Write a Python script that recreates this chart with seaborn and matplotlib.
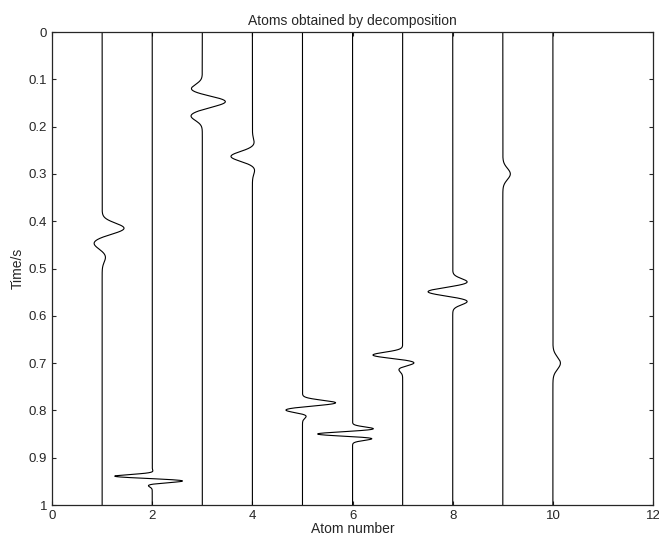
import numpy as np
import pandas as pd
import seaborn as sns
import matplotlib.pyplot as plt
from matplotlib.ticker import FuncFormatter

# Atom positions along the x axis
atom_pos = [1, 2, 3, 4, 5, 6, 7, 8, 9, 10]

# Lobe times (s) and deflections (atom-number units)
lobe_times = [
    [0.415, 0.446, 0.475],
    [0.930, 0.939, 0.949, 0.958],
    [0.121, 0.147, 0.177],
    [0.236, 0.263, 0.290],
    [0.784, 0.799, 0.810],
    [0.839, 0.850, 0.859],
    [0.683, 0.699, 0.712],
    [0.529, 0.549, 0.569],
    [0.300],
    [0.700],
]
lobe_amps = [
    [0.44, -0.17, 0.07],
    [0.02, -0.76, 0.62, -0.09],
    [-0.23, 0.47, -0.23],
    [0.04, -0.43, 0.05],
    [0.67, -0.36, 0.10],
    [0.43, -0.74, 0.43],
    [-0.60, 0.25, -0.09],
    [0.30, -0.51, 0.30],
    [0.15],
    [0.15],
]
lobe_width = [0.011, 0.0035, 0.010, 0.010, 0.0055, 0.004, 0.006, 0.0075, 0.012, 0.013]

t = np.linspace(0, 1, 4001)
rows = []
for pos, times, amps, w in zip(atom_pos, lobe_times, lobe_amps, lobe_width):
    trace = np.zeros_like(t)
    for tc, a in zip(times, amps):
        trace += a * np.exp(-0.5 * ((t - tc) / w) ** 2)
    rows.append(pd.DataFrame({'atom': pos, 'time': t, 'x': pos + trace}))
df = pd.concat(rows, ignore_index=True)

sns.set_style('ticks')
plt.rcParams['font.family'] = ['Liberation Sans', 'DejaVu Sans']

fig = plt.figure(figsize=(6.59, 5.39), dpi=100)
ax = fig.add_axes([0.079, 0.063, 0.912, 0.8776])

sns.lineplot(data=df, x='x', y='time', units='atom', estimator=None, sort=False,
             color='black', linewidth=0.8, ax=ax)

ax.set_xlim(0, 12)
ax.set_ylim(1, 0)
ax.set_xticks(np.arange(0, 13, 2))
ax.set_yticks(np.arange(0, 1.01, 0.1))
ax.yaxis.set_major_formatter(FuncFormatter(lambda v, p: '%g' % round(v, 2)))
ax.tick_params(direction='in', length=3, top=True, right=True, labelsize=9.5,
               color='#262626', labelcolor='#262626')
for s in ax.spines.values():
    s.set_linewidth(0.9)
    s.set_color('#262626')

ax.set_title('Atoms obtained by decomposition', fontsize=10, pad=5)
ax.set_xlabel('Atom number', fontsize=10, labelpad=0)
ax.set_ylabel('Time/s', fontsize=10, labelpad=3)

fig.savefig('out.png', dpi=100)
